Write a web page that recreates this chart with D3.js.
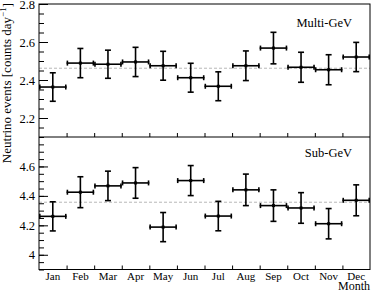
<!DOCTYPE html>
<html>
<head>
<meta charset="utf-8">
<script src="https://cdn.jsdelivr.net/npm/d3@7"></script>
<style>
  body { margin: 0; background: #fff; }
  text { font-family: "Liberation Serif", "DejaVu Serif", serif; fill: #000; }
</style>
</head>
<body>
<script>
const months = ["Jan", "Feb", "Mar", "Apr", "May", "Jun", "Jul", "Aug", "Sep", "Oct", "Nov", "Dec"];

const multiValues = [2.363, 2.489, 2.483, 2.495, 2.475, 2.412, 2.367, 2.475, 2.568, 2.467, 2.454, 2.521];
const multiErrors = [0.075, 0.077, 0.074, 0.077, 0.076, 0.076, 0.076, 0.078, 0.083, 0.079, 0.079, 0.077];
const multiMean = 2.462;
const multiTicks = [2.2, 2.4, 2.6, 2.8];

const subValues = [4.261, 4.425, 4.468, 4.488, 4.188, 4.504, 4.263, 4.441, 4.334, 4.318, 4.211, 4.370];
const subErrors = [0.099, 0.105, 0.100, 0.104, 0.099, 0.102, 0.100, 0.107, 0.107, 0.104, 0.103, 0.105];
const subMean = 4.357;
const subTicks = [4, 4.2, 4.4, 4.6];

const W = 374, H = 291;
const frameL = 39, frameR = 370, frameT = 4, frameM = 137, frameB = 269.5;

const svg = d3.select("body").append("svg")
  .attr("width", W)
  .attr("height", H);

const x = d3.scaleBand().domain(months).range([frameL, frameR]).padding(0);
const xEdge = d3.scaleLinear().domain([0, 12]).range([frameL, frameR]);

const panels = [
  {name: "Multi-GeV", values: multiValues, errors: multiErrors, mean: multiMean, ticks: multiTicks,
   domain: [2.1, 2.8], range: [frameM, frameT], labelY: 27},
  {name: "Sub-GeV", values: subValues, errors: subErrors, mean: subMean, ticks: subTicks,
   domain: [3.9, 4.8], range: [frameB, frameM], labelY: 157}
];

panels.forEach(p => {
  const y = d3.scaleLinear().domain(p.domain).range(p.range);
  const g = svg.append("g");

  // mean line
  g.append("line")
    .attr("x1", frameL).attr("x2", frameR)
    .attr("y1", y(p.mean)).attr("y2", y(p.mean))
    .attr("stroke", "#b8b8b8")
    .attr("stroke-width", 1)
    .attr("stroke-dasharray", "3,2");

  // minor ticks
  const minor = d3.range(Math.ceil(p.domain[0] / 0.05), Math.floor(p.domain[1] / 0.05) + 1)
    .map(i => +(i * 0.05).toFixed(2));
  g.append("g")
    .attr("transform", `translate(${frameL},0)`)
    .call(d3.axisLeft(y).tickValues(minor).tickSize(-5).tickFormat(""))
    .call(a => a.select(".domain").remove());

  // major ticks + labels
  g.append("g")
    .attr("transform", `translate(${frameL},0)`)
    .call(d3.axisLeft(y).tickValues(p.ticks).tickSize(-9).tickPadding(4).tickFormat(d3.format("")))
    .call(a => a.select(".domain").remove())
    .call(a => a.selectAll("text").style("font-size", "12.5px"));

  // bin-edge ticks on the bottom of the panel
  g.append("g")
    .attr("transform", `translate(0,${p.range[0]})`)
    .call(d3.axisBottom(xEdge).tickValues(d3.range(1, 12)).tickSize(-4).tickFormat(""))
    .call(a => a.select(".domain").remove());

  g.selectAll("g.tick line").attr("stroke", "#000");

  // data points
  const pts = g.selectAll("g.pt")
    .data(months.map((m, i) => ({m: m, v: p.values[i], e: p.errors[i]})))
    .join("g")
    .attr("class", "pt")
    .attr("stroke", "#000")
    .attr("stroke-width", 1.6);

  pts.append("line")
    .attr("x1", d => x(d.m)).attr("x2", d => x(d.m) + x.bandwidth())
    .attr("y1", d => y(d.v)).attr("y2", d => y(d.v));
  pts.append("line")
    .attr("x1", d => x(d.m) + 0.8).attr("x2", d => x(d.m) + 0.8)
    .attr("y1", d => y(d.v) - 2.5).attr("y2", d => y(d.v) + 2.5);
  pts.append("line")
    .attr("x1", d => x(d.m) + x.bandwidth() - 0.8).attr("x2", d => x(d.m) + x.bandwidth() - 0.8)
    .attr("y1", d => y(d.v) - 2.5).attr("y2", d => y(d.v) + 2.5);
  pts.append("line")
    .attr("x1", d => x(d.m) + x.bandwidth() / 2).attr("x2", d => x(d.m) + x.bandwidth() / 2)
    .attr("y1", d => y(d.v + d.e)).attr("y2", d => y(d.v - d.e));
  pts.append("line")
    .attr("x1", d => x(d.m) + x.bandwidth() / 2 - 3).attr("x2", d => x(d.m) + x.bandwidth() / 2 + 3)
    .attr("y1", d => y(d.v + d.e)).attr("y2", d => y(d.v + d.e));
  pts.append("line")
    .attr("x1", d => x(d.m) + x.bandwidth() / 2 - 3).attr("x2", d => x(d.m) + x.bandwidth() / 2 + 3)
    .attr("y1", d => y(d.v - d.e)).attr("y2", d => y(d.v - d.e));
  pts.append("rect")
    .attr("x", d => x(d.m) + x.bandwidth() / 2 - 1.5)
    .attr("y", d => y(d.v) - 1.5)
    .attr("width", 3).attr("height", 3)
    .attr("stroke", "none")
    .attr("fill", "#000");

  g.append("text")
    .attr("x", 352)
    .attr("y", p.labelY)
    .attr("text-anchor", "end")
    .style("font-size", "12.5px")
    .text(p.name);
});

// frame
svg.append("rect")
  .attr("x", frameL).attr("y", frameT)
  .attr("width", frameR - frameL).attr("height", frameB - frameT)
  .attr("fill", "none")
  .attr("stroke", "#000")
  .attr("stroke-width", 1);
svg.append("line")
  .attr("x1", frameL).attr("x2", frameR)
  .attr("y1", frameM).attr("y2", frameM)
  .attr("stroke", "#000");

// month labels
svg.append("g")
  .attr("transform", `translate(0,${frameB})`)
  .call(d3.axisBottom(x).tickSize(0).tickPadding(3))
  .call(a => a.select(".domain").remove())
  .call(a => a.selectAll("text").style("font-size", "11px"));

svg.append("text")
  .attr("x", frameR)
  .attr("y", 290)
  .attr("text-anchor", "end")
  .style("font-size", "12px")
  .text("Month");

const yl = svg.append("text")
  .attr("transform", "translate(10.5,3) rotate(-90)")
  .attr("text-anchor", "end")
  .style("font-size", "13px");
yl.append("tspan").text("Neutrino events [counts day");
yl.append("tspan").attr("dy", "-0.45em").style("font-size", "9px").text("\u22121");
yl.append("tspan").attr("dy", "0.45em").text("]");
</script>
</body>
</html>
